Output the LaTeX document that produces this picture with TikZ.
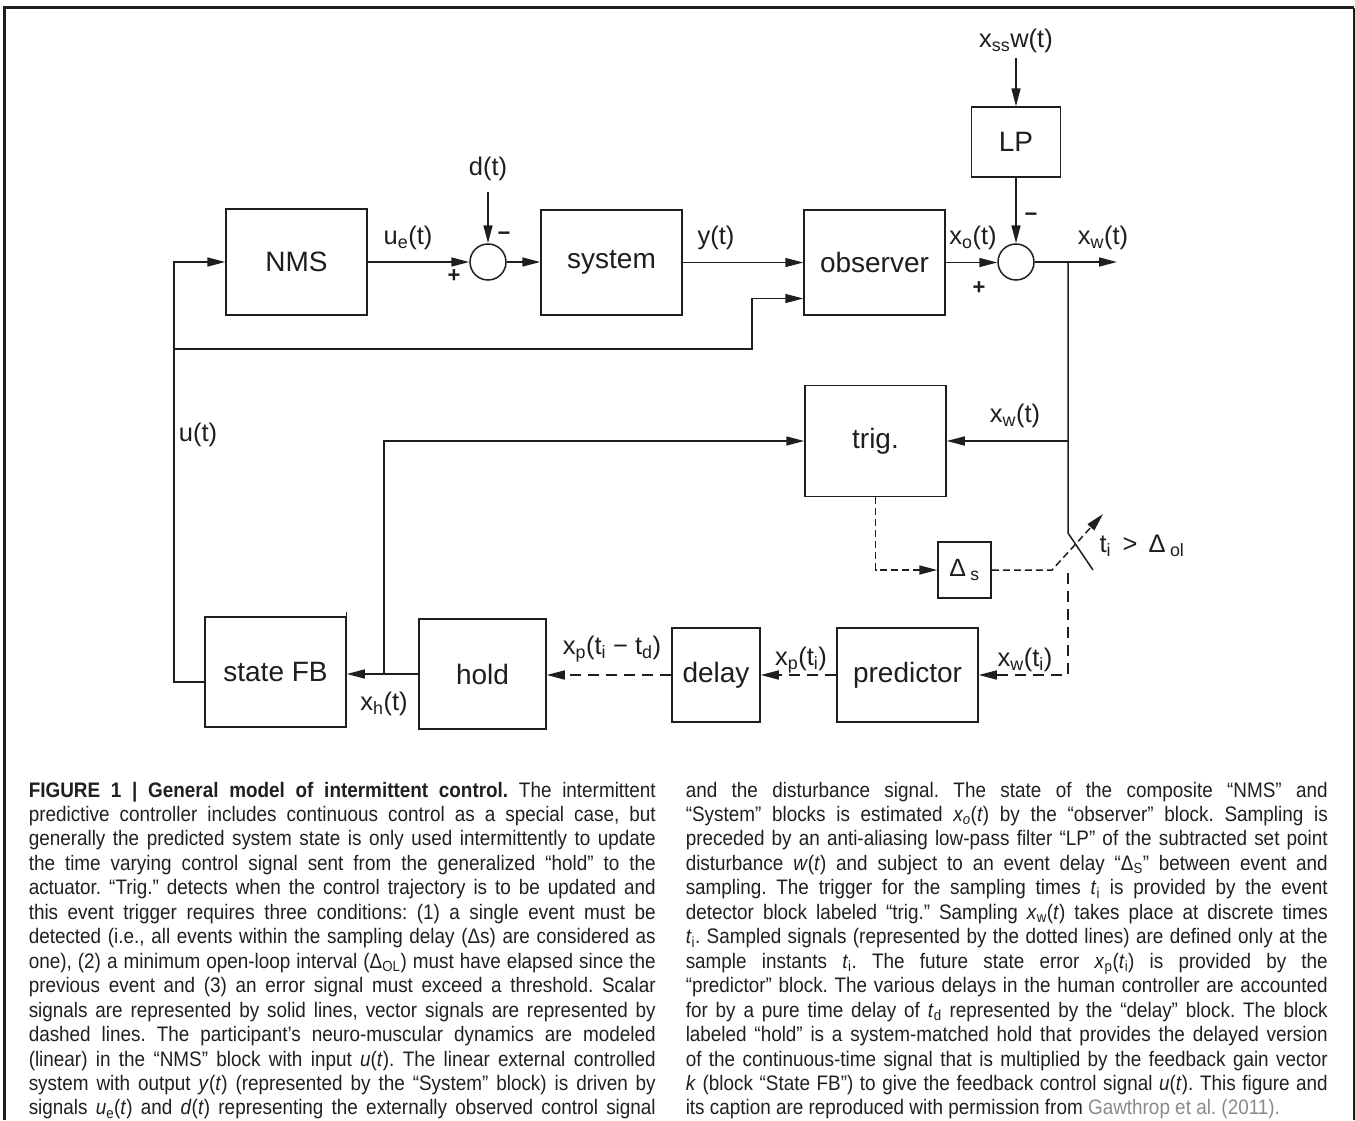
\documentclass[tikz,border=0pt]{standalone}
\usepackage{fontspec}
\setmainfont{Liberation Sans}
\newfontfamily\capfont[FakeStretch=0.9]{Liberation Sans}
\usetikzlibrary{arrows.meta,calc}
\definecolor{ink}{HTML}{1E1E1E}
\definecolor{captxt}{HTML}{231F20}
\definecolor{citec}{HTML}{8A8A8A}
\newcommand\lsub[1]{\textsubscript{#1}}
\newcommand\capline[1]{\makebox[\linewidth][s]{#1}\\}
\frenchspacing
\begin{document}
\begin{tikzpicture}[x=1pt,y=-1pt,
  line width=1.5pt, draw=ink,
  blk/.style={draw=ink, line width=1.5pt, rectangle, inner sep=0pt, text=ink, font=\fontsize{28}{32}\selectfont},
  sumj/.style={draw=ink, line width=1.5pt, circle, minimum size=36pt, inner sep=0pt},
  lbl/.style={inner sep=0pt, text=ink, font=\fontsize{25.5}{28}\selectfont},
  sgn/.style={inner sep=0pt, text=ink, font=\fontsize{22}{24}\selectfont\bfseries},
  arr/.style={-{Triangle[length=18pt,width=9pt]}},
  dsh/.style={dash pattern=on 7pt off 4pt},
  dshl/.style={dash pattern=on 11pt off 7pt},
]
\fill[white] (0,0) rectangle (1355,1120);
\useasboundingbox (0,0) rectangle (1355,1120);
% frame
\draw[line width=3pt] (4,1120) -- (4,7.5) -- (1354,7.5);
\draw[line width=2pt] (1354,7.5) -- (1354,1120);

% blocks
\node[blk, minimum width=141pt, minimum height=106pt] (nms) at (296.5,262) {NMS};
\node[sumj] (s1) at (488,262) {};
\node[blk, minimum width=141pt, minimum height=105pt] (sys) at (611.5,262.5) {system};
\node[blk, minimum width=141pt, minimum height=105pt] (obs) at (874.5,262.5) {observer};
\node[sumj] (s2) at (1016,262) {};
\node[blk, minimum width=89pt, minimum height=70pt] (lp) at (1016,142) {LP};
\node[blk, minimum width=141pt, minimum height=111pt] (trig) at (875.5,441) {trig.};
\node[blk, minimum width=53pt, minimum height=56pt, font=\fontsize{25}{28}\selectfont] (ds) at (964.5,570) {Δ\,\lsub{s}};
\node[blk, minimum width=141pt, minimum height=94pt] (pred) at (907.5,675) {predictor};
\node[blk, minimum width=88pt, minimum height=94pt] (dly) at (716,675) {delay};
\node[blk, minimum width=127pt, minimum height=110pt] (hold) at (482.5,674) {hold};
\node[blk, minimum width=141pt, minimum height=110pt] (sfb) at (275.5,672) {state FB};
\draw[line width=1pt] (346,612) -- (346,617);

% labels
\node[lbl] (lue) at (408,238) {u\lsub{e}(t)};
\node[lbl] (ld) at (488,169) {d(t)};
\node[sgn] (lm1) at (504,236) {−};
\node[sgn] (lp1) at (454,276) {+};
\node[lbl] (ly) at (716,238) {y(t)};
\node[lbl] (lxo) at (973,238) {x\lsub{o}(t)};
\node[sgn] (lp2) at (979,288) {+};
\node[sgn] (lm2) at (1031,217) {−};
\node[lbl] (lxss) at (1016,41) {x\lsub{ss}w(t)};
\node[lbl] (lxw) at (1103,238) {x\lsub{w}(t)};
\node[lbl] (lxw2) at (1015,416) {x\lsub{w}(t)};
\node[lbl] (lcond) at (1142,546) {t\lsub{i}\, >\, Δ\,\lsub{ol}};
\node[lbl] (lxwi) at (1025,660) {x\lsub{w}(t\lsub{i})};
\node[lbl] (lxpi) at (801,660) {x\lsub{p}(t\lsub{i})};
\node[lbl] (lxpd) at (612,649) {x\lsub{p}(t\lsub{i} − t\lsub{d})};
\node[lbl] (lxh) at (384,704) {x\lsub{h}(t)};
\node[lbl] (lu) at (198,435) {u(t)};

% coordinates
\coordinate (dtip) at (488,192);
\coordinate (xtip) at (1016,58);
\coordinate (out) at (1117,262);
\coordinate (br) at (1068,262);
\coordinate (swtop) at (1068,533);
\coordinate (swend) at (1093,570);
\coordinate (trigin) at (1068,441);
\coordinate (hj) at (384,674);
\coordinate (uL) at (174,682);
\coordinate (obL) at (174,349);
\coordinate (obk) at (752,349);
\coordinate (dk) at (1052,570);
\coordinate (swarr) at (1103,514);
\coordinate (swb) at (1068,573);

% solid connectors
\draw[arr] (nms.east) -- (s1.west);
\draw[arr] (dtip) -- (s1.north);
\draw[arr] (s1.east) -- (s1.east -| sys.west);
\draw[arr] (sys.east) -- (sys.east -| obs.west);
\draw[arr] (obs.east) -- (obs.east -| s2.west);
\draw[arr] (xtip) -- (lp.north);
\draw[arr] (lp.south) -- (s2.north);
\draw[arr] (s2.east) -- (out);
\draw (br) -- (swtop) -- (swend);
\draw[arr] (trigin) -- (trig.east);
\draw[arr] (hj) |- (trig.west);
\draw[arr] (hold.west) -- (hold.west -| sfb.east);
\draw[arr] (sfb.west |- uL) -- (uL) |- (nms.west);
\draw[arr] (obL) -- (obk) |- ($(obs.west)+(0,36)$);

% dashed connectors
\draw[dsh,arr] (trig.south) |- (ds.west);
\draw[dsh,arr] (ds.east) -- (dk) -- (swarr);
\draw[dshl,arr] (swb) |- (pred.east);
\draw[dshl,arr] (pred.west) -- (dly.east);
\draw[dshl,arr] (dly.west) -- (dly.west -| hold.east);

% caption
\node[anchor=base west, inner sep=0pt, text=captxt] (capL) at (28,797) {\parbox[t]{627pt}{\capfont\fontsize{21}{24.46}\selectfont
\capline{\textbf{FIGURE 1 | General model of intermittent control.} The intermittent}%
\capline{predictive controller includes continuous control as a special case, but}%
\capline{generally the predicted system state is only used intermittently to update}%
\capline{the time varying control signal sent from the generalized “hold” to the}%
\capline{actuator. “Trig.” detects when the control trajectory is to be updated and}%
\capline{this event trigger requires three conditions: (1) a single event must be}%
\capline{detected (i.e., all events within the sampling delay (Δs) are considered as}%
\capline{one), (2) a minimum open-loop interval (Δ\lsub{OL}) must have elapsed since the}%
\capline{previous event and (3) an error signal must exceed a threshold. Scalar}%
\capline{signals are represented by solid lines, vector signals are represented by}%
\capline{dashed lines. The participant’s neuro-muscular dynamics are modeled}%
\capline{(linear) in the “NMS” block with input \textit{u}(\textit{t}). The linear external controlled}%
\capline{system with output \textit{y}(\textit{t}) (represented by the “System” block) is driven by}%
\makebox[\linewidth][s]{signals \textit{u}\lsub{e}(\textit{t}) and \textit{d}(\textit{t}) representing the externally observed control signal}}};

\node[anchor=base west, inner sep=0pt, text=captxt] (capR) at (685,797) {\parbox[t]{642pt}{\capfont\fontsize{21}{24.46}\selectfont
\capline{and the disturbance signal. The state of the composite “NMS” and}%
\capline{“System” blocks is estimated \textit{x\lsub{o}}(\textit{t}) by the “observer” block. Sampling is}%
\capline{preceded by an anti-aliasing low-pass filter “LP” of the subtracted set point}%
\capline{disturbance \textit{w}(\textit{t}) and subject to an event delay “Δ\lsub{S}” between event and}%
\capline{sampling. The trigger for the sampling times \textit{t}\lsub{i} is provided by the event}%
\capline{detector block labeled “trig.” Sampling \textit{x}\lsub{w}(\textit{t}) takes place at discrete times}%
\capline{\textit{t}\lsub{i}. Sampled signals (represented by the dotted lines) are defined only at the}%
\capline{sample instants \textit{t}\lsub{i}. The future state error \textit{x}\lsub{p}(\textit{t}\lsub{i}) is provided by the}%
\capline{“predictor” block. The various delays in the human controller are accounted}%
\capline{for by a pure time delay of \textit{t}\lsub{d} represented by the “delay” block. The block}%
\capline{labeled “hold” is a system-matched hold that provides the delayed version}%
\capline{of the continuous-time signal that is multiplied by the feedback gain vector}%
\capline{\textit{k} (block “State FB”) to give the feedback control signal \textit{u}(\textit{t}). This figure and}%
its caption are reproduced with permission from \textcolor{citec}{Gawthrop et al. (2011).}}};
\end{tikzpicture}
\end{document}
